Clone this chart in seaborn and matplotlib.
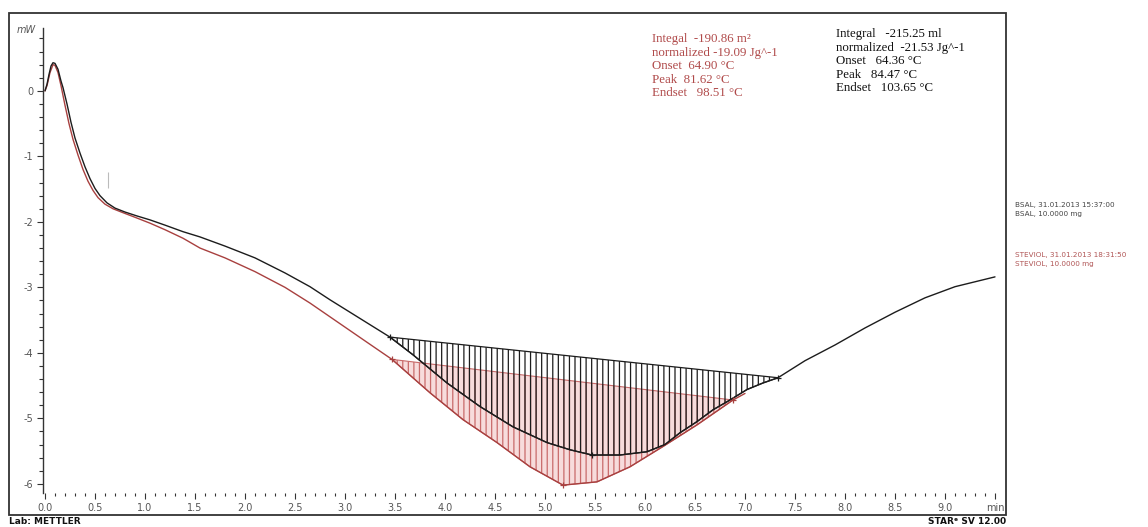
import numpy as np
import pandas as pd
import matplotlib
matplotlib.use("Agg")
import matplotlib.pyplot as plt
from matplotlib.patches import Rectangle
import seaborn as sns

# ---- curve data (time in min, heat flow in mW) ----
bsal_t = [0.00, 0.02, 0.04, 0.06, 0.08, 0.10, 0.13, 0.16, 0.18, 0.22, 0.26, 0.30, 0.35,
          0.40, 0.45, 0.50, 0.55, 0.62, 0.70, 0.80, 0.92, 1.05, 1.20, 1.38, 1.55, 1.80,
          2.10, 2.40, 2.65, 2.85, 3.05, 3.25, 3.45, 3.68, 4.02, 4.35, 4.68, 5.02, 5.25,
          5.47, 5.75, 6.02, 6.20, 6.35, 6.52, 6.68, 6.85, 7.02, 7.18, 7.33, 7.60, 7.90,
          8.20, 8.50, 8.80, 9.10, 9.50]
bsal_mw = [0.00, 0.10, 0.25, 0.38, 0.43, 0.42, 0.33, 0.15, 0.05, -0.20, -0.48, -0.72,
           -0.95, -1.16, -1.34, -1.49, -1.60, -1.71, -1.79, -1.85, -1.91, -1.97, -2.05,
           -2.15, -2.23, -2.37, -2.55, -2.78, -2.99, -3.19, -3.38, -3.57, -3.76, -4.03,
           -4.46, -4.82, -5.13, -5.37, -5.48, -5.56, -5.56, -5.51, -5.40, -5.22, -5.05,
           -4.87, -4.72, -4.56, -4.46, -4.38, -4.12, -3.88, -3.62, -3.38, -3.16, -2.99,
           -2.84]

steviol_t = [0.00, 0.02, 0.05, 0.08, 0.10, 0.13, 0.16, 0.20, 0.24, 0.28, 0.33, 0.38, 0.43,
             0.48, 0.53, 0.60, 0.68, 0.78, 0.90, 1.05, 1.20, 1.38, 1.55, 1.80, 2.10, 2.40,
             2.65, 2.85, 3.05, 3.25, 3.47, 3.85, 4.18, 4.52, 4.85, 5.18, 5.52, 5.85, 6.18,
             6.52, 6.88, 7.00]
steviol_mw = [0.00, 0.08, 0.28, 0.40, 0.39, 0.28, 0.08, -0.22, -0.50, -0.74, -0.98, -1.20,
              -1.38, -1.52, -1.63, -1.73, -1.80, -1.86, -1.93, -2.02, -2.12, -2.25, -2.40,
              -2.55, -2.76, -3.00, -3.24, -3.45, -3.66, -3.87, -4.10, -4.61, -5.02, -5.37,
              -5.74, -6.02, -5.97, -5.74, -5.43, -5.10, -4.72, -4.62]

# integration limits (onset / end) for each peak
bsal_limits = [(3.45, -3.76), (7.33, -4.38)]
steviol_limits = [(3.47, -4.10), (6.88, -4.72)]
bsal_min = (5.47, -5.56)
steviol_min = (5.18, -6.02)

red_results = ["Integal  -190.86 m\u00b2", "normalized -19.09 Jg^-1", "Onset  64.90 \u00b0C",
               "Peak  81.62 \u00b0C", "Endset   98.51 \u00b0C"]
black_results = ["Integral   -215.25 ml", "normalized  -21.53 Jg^-1", "Onset   64.36 \u00b0C",
                 "Peak   84.47 \u00b0C", "Endset   103.65 \u00b0C"]
legend_bsal = ["BSAL, 31.01.2013 15:37:00", "BSAL, 10.0000 mg"]
legend_steviol = ["STEVIOL, 31.01.2013 18:31:50", "STEVIOL, 10.0000 mg"]

x_major = np.arange(0, 9.01, 0.5)
x_labels = [f"{v:.1f}" for v in x_major]
y_major = [0, -1, -2, -3, -4, -5, -6]

BLACK = "#1c1c1c"
RED = "#a8403f"
W, H = 1148, 527

sns.set_theme(style="white")
plt.rcParams["font.family"] = ["DejaVu Sans"]
plt.rcParams["hatch.linewidth"] = 0.9

fig = plt.figure(figsize=(W / 100, H / 100), dpi=100)
ax = fig.add_axes([43 / W, 1 - 493 / H, 957 / W, 465 / H])

df_b = pd.DataFrame({"t": bsal_t, "mW": bsal_mw})
df_s = pd.DataFrame({"t": steviol_t, "mW": steviol_mw})


def peak_polygon(t, y, limits):
    t = np.asarray(t)
    y = np.asarray(y)
    (t0, y0), (t1, y1) = limits
    m = (t > t0) & (t < t1)
    px = np.concatenate([[t0], t[m], [t1]])
    py = np.concatenate([[y0], y[m], [y1]])
    return px, py


# red (steviol) peak area: pink fill + red hatching
px, py = peak_polygon(steviol_t, steviol_mw, steviol_limits)
ax.fill(px, py, facecolor="#f7dcdc", edgecolor="#c86a6a", hatch="|||", lw=0.8, zorder=1)
# black (bsal) peak area: black hatching
px, py = peak_polygon(bsal_t, bsal_mw, bsal_limits)
ax.fill(px, py, facecolor="none", edgecolor=BLACK, hatch="|||", lw=0.9, zorder=2)

sns.lineplot(data=df_s, x="t", y="mW", color=RED, lw=1.0, ax=ax, zorder=3)
sns.lineplot(data=df_b, x="t", y="mW", color=BLACK, lw=1.0, ax=ax, zorder=4)

# small onset/end/peak markers
for (tt, yy) in bsal_limits + [bsal_min]:
    ax.plot(tt, yy, marker="+", ms=5, color=BLACK, mew=0.9, zorder=5)
for (tt, yy) in steviol_limits + [steviol_min]:
    ax.plot(tt, yy, marker="+", ms=5, color=RED, mew=0.9, zorder=5)
ax.vlines(0.63, -1.48, -1.24, color="#bbbbbb", lw=0.8)

ax.set_xlim(-0.02, 9.55)
ax.set_ylim(-6.14, 0.96)
ax.set_xlabel("")
ax.set_ylabel("")

ax.set_xticks(list(x_major) + [9.5])
ax.set_xticklabels(x_labels + ["min"])
ax.set_xticks(np.arange(0, 9.55, 0.1), minor=True)
ax.set_yticks(y_major)
ax.set_yticklabels([str(v) for v in y_major])
ax.set_yticks(np.arange(-6, 0.95, 0.2), minor=True)
ax.tick_params(axis="both", which="both", direction="out", color="#333333",
               labelsize=7, labelcolor="#555555", bottom=True, left=True)
ax.tick_params(axis="x", which="major", length=4, width=0.8, pad=3)
ax.tick_params(axis="x", which="minor", length=2.5, width=0.8)
ax.tick_params(axis="y", which="major", length=4, width=0.8, pad=3)
ax.tick_params(axis="y", which="minor", length=3, width=0.8)
for s in ["top", "right", "bottom"]:
    ax.spines[s].set_visible(False)
ax.spines["left"].set_color("#333333")
ax.spines["left"].set_linewidth(1.0)
fig.text(36 / W, 1 - 30 / H, "mW", ha="right", va="center",
         fontsize=7, color="#555555", style="italic")

# frame around plot
fig.add_artist(Rectangle((9 / W, 1 - 515 / H), 997 / W, 502 / H, transform=fig.transFigure,
                         fill=False, lw=1.3, ec="#333333"))

# result annotations
for i, line in enumerate(red_results):
    fig.text(652 / W, 1 - (39 + 13.6 * i) / H, line, color="#b04a4a", fontsize=9.3,
             family="Liberation Serif", va="center", ha="left")
for i, line in enumerate(black_results):
    fig.text(836 / W, 1 - (34 + 13.6 * i) / H, line, color="#111111", fontsize=9.3,
             family="Liberation Serif", va="center", ha="left")

for i, line in enumerate(legend_bsal):
    fig.text(1015 / W, 1 - (205 + 9 * i) / H, line, color="#444444", fontsize=5.2,
             va="center", ha="left")
for i, line in enumerate(legend_steviol):
    fig.text(1015 / W, 1 - (255 + 9 * i) / H, line, color="#b05555", fontsize=5.2,
             va="center", ha="left")

fig.text(9 / W, 1 - 522 / H, "Lab: METTLER", fontsize=6.5, weight="bold", color="#111111",
         va="center", ha="left")
fig.text(1006 / W, 1 - 521 / H, "STAR\u1d49 SV 12.00", fontsize=6.5, weight="bold",
         color="#111111", va="center", ha="right")

fig.savefig("out.png", dpi=100)
